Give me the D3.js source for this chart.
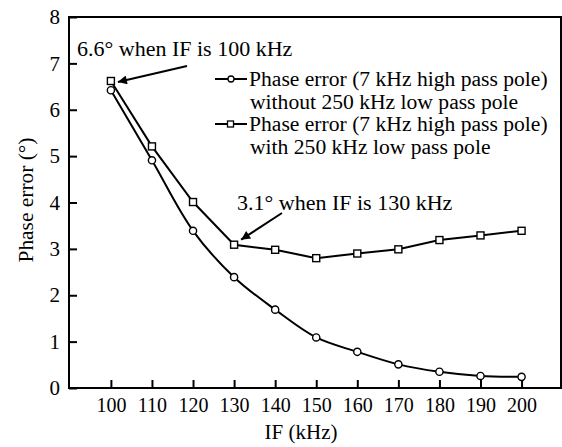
<!DOCTYPE html>
<html><head><meta charset="utf-8">
<script src="https://cdn.jsdelivr.net/npm/d3@7"></script>
<style>body{margin:0;background:#fff}svg{display:block}</style>
</head><body><div id="c"></div>
<script>
const freqs = [100,110,120,130,140,150,160,170,180,190,200];
const withoutLP = [6.42,4.91,3.39,2.39,1.69,1.09,0.78,0.51,0.35,0.26,0.24];
const withLP = [6.62,5.21,4.01,3.09,2.98,2.80,2.90,2.99,3.19,3.29,3.39];
const yTicks = [0,1,2,3,4,5,6,7,8];
const legendLabels = [["Phase error (7 kHz high pass pole)","without 250 kHz low pass pole"],["Phase error (7 kHz high pass pole)","with 250 kHz low pass pole"]];
const notes = [{text:"6.6\u00b0 when IF is 100 kHz", f:100, v:6.62},{text:"3.1\u00b0 when IF is 130 kHz", f:130, v:3.09}];

const FF='"Liberation Serif"';
const W=562,H=447;
const L=69,R=561,T=17,B=388;
const x=d3.scaleLinear().domain([89.8,209.6]).range([L,R]);
const y=d3.scaleLinear().domain([0,8]).range([B,T]);
const svg=d3.select("#c").append("svg").attr("width",W).attr("height",H).attr("font-family","Liberation Serif").style("font-family",FF);
svg.append("defs").append("marker").attr("id","ah").attr("viewBox","0 0 10 10").attr("refX",10).attr("refY",5)
 .attr("markerWidth",14).attr("markerHeight",9).attr("markerUnits","userSpaceOnUse").attr("orient","auto")
 .append("path").attr("d","M0,0L10,5L0,10Z").attr("fill","#000");

svg.append("rect").attr("x",L).attr("y",T).attr("width",R-L).attr("height",B-T).attr("fill","none").attr("stroke","#000").attr("stroke-width",2);

const xa=svg.append("g").attr("transform",`translate(0,${B})`).call(d3.axisBottom(x).tickValues(freqs).tickSize(-8).tickFormat(d3.format("d")));
xa.attr("font-family","Liberation Serif").attr("font-size",20);
xa.select(".domain").remove();
xa.selectAll("line").attr("stroke-width",2);
xa.selectAll("text").attr("y",24).attr("dy",0).attr("font-size",20).attr("font-family","Liberation Serif").style("font-family",FF).attr("fill","#000");
const ya=svg.append("g").attr("transform",`translate(${L},0)`).call(d3.axisLeft(y).tickValues(yTicks).tickSize(-8).tickPadding(9).tickFormat(d3.format("d")));
ya.attr("font-family","Liberation Serif").attr("font-size",21);
ya.select(".domain").remove();
ya.selectAll("line").attr("stroke-width",2);
ya.selectAll("text").attr("font-size",21).attr("font-family","Liberation Serif").style("font-family",FF).attr("fill","#000");

function txt(sel){return sel.append("text").attr("font-family","Liberation Serif").style("font-family",FF);}
txt(svg).attr("x",301).attr("y",439).attr("text-anchor","middle").attr("font-size",21).text("IF (kHz)");
txt(svg).attr("transform","translate(33,200) rotate(-90)").attr("text-anchor","middle").attr("font-size",21.4).text("Phase error (\u00b0)");

const line=d3.line().x((d,i)=>x(freqs[i])).y(d=>y(d)).curve(d3.curveCatmullRom);
svg.append("path").datum(withoutLP).attr("d",line).attr("fill","none").attr("stroke","#000").attr("stroke-width",2);
svg.append("path").datum(withLP).attr("d",d3.line().x((d,i)=>x(freqs[i])).y(d=>y(d))).attr("fill","none").attr("stroke","#000").attr("stroke-width",2);
svg.selectAll(".c").data(withoutLP).enter().append("circle").attr("cx",(d,i)=>x(freqs[i])).attr("cy",d=>y(d)).attr("r",3.6).attr("fill","#fff").attr("stroke","#000").attr("stroke-width",1.4);
svg.selectAll(".s").data(withLP).enter().append("rect").attr("x",(d,i)=>x(freqs[i])-3.5).attr("y",d=>y(d)-3.5).attr("width",7).attr("height",7).attr("fill","#fff").attr("stroke","#000").attr("stroke-width",1.4);

const lg=svg.append("g");
[0,1].forEach(k=>{
 const yy=79+k*45;
 lg.append("line").attr("x1",215).attr("x2",247).attr("y1",yy).attr("y2",yy).attr("stroke","#000").attr("stroke-width",2);
 if(k===0) lg.append("circle").attr("cx",231).attr("cy",yy).attr("r",3).attr("fill","#fff").attr("stroke","#000").attr("stroke-width",1.3);
 else lg.append("rect").attr("x",227.5).attr("y",yy-3).attr("width",6).attr("height",6).attr("fill","#fff").attr("stroke","#000").attr("stroke-width",1.3);
 legendLabels[k].forEach((t,j)=>txt(lg).attr("x",j?250:249).attr("y",yy+7+j*22.6).attr("font-size",21.6).text(t));
});

txt(svg).attr("x",77).attr("y",56).attr("font-size",22).text(notes[0].text);
svg.append("line").attr("x1",187).attr("y1",66).attr("x2",x(notes[0].f)+7).attr("y2",y(notes[0].v)+1).attr("stroke","#000").attr("stroke-width",2).attr("marker-end","url(#ah)");
txt(svg).attr("x",237).attr("y",210).attr("font-size",22).text(notes[1].text);
svg.append("line").attr("x1",282).attr("y1",213).attr("x2",x(notes[1].f)+7).attr("y2",y(notes[1].v)-5).attr("stroke","#000").attr("stroke-width",2).attr("marker-end","url(#ah)");
</script></body></html>
